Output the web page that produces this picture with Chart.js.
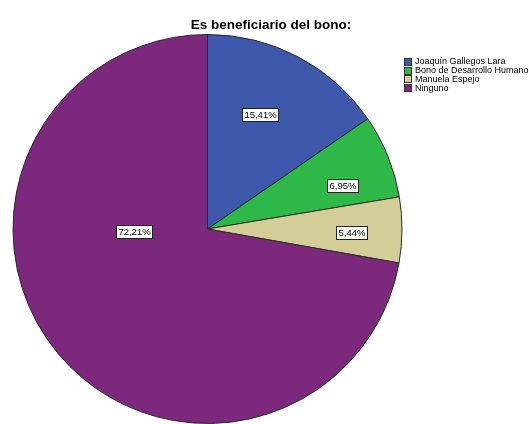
<!DOCTYPE html>
<html>
<head>
<meta charset="utf-8">
<script src="https://cdn.jsdelivr.net/npm/chart.js@4/dist/chart.umd.min.js"></script>
<style>
  html, body { margin: 0; padding: 0; background: #fff; overflow: hidden; }
  #wrap { width: 529px; height: 424px; position: relative; }
</style>
</head>
<body>
<div id="wrap"><canvas id="pie" width="529" height="424"></canvas></div>
<script>
const title      = 'Es beneficiario del bono:';
const categories = ['Joaquín Gallegos Lara', 'Bono de Desarrollo Humano', 'Manuela Espejo', 'Ninguno'];
const percents   = [15.41, 6.95, 5.44, 72.21];
const colors     = ['#3E58AC', '#2EB848', '#D3CE97', '#7C287D'];

// dónde va cada etiqueta (fracción del radio, desplazamiento en grados)
const labelRadius = [0.65, 0.73, 0.74, 0.38];
const labelShift  = [-3, 4, 1, 38];

const fmt = (v) => v.toFixed(2).replace('.', ',') + '%';

/* ---------- título, leyenda y etiquetas ---------- */
const decor = {
    id: 'decor',
    afterDatasetsDraw(chart) {
        const ctx = chart.ctx;
        ctx.save();

        // título
        ctx.fillStyle = '#000';
        ctx.font = 'bold 13.5px "Liberation Sans", Arial, sans-serif';
        ctx.textAlign = 'center';
        ctx.textBaseline = 'alphabetic';
        ctx.fillText(title, 271, 29);

        // etiquetas de porcentaje
        ctx.font = '9.5px "Liberation Sans", Arial, sans-serif';
        ctx.textBaseline = 'middle';
        chart.getDatasetMeta(0).data.forEach((arc, i) => {
            const p = arc.getProps(['x', 'y', 'startAngle', 'endAngle', 'outerRadius'], true);
            const a = (p.startAngle + p.endAngle) / 2 + labelShift[i] * Math.PI / 180;
            const r = p.outerRadius * labelRadius[i];
            const x = p.x + Math.cos(a) * r;
            const y = p.y + Math.sin(a) * r;
            const txt = fmt(percents[i]);
            const w = Math.round(ctx.measureText(txt).width) + 4;
            const h = 13;
            const bx = Math.round(x - w / 2) + 0.5, by = Math.round(y - h / 2) + 0.5;
            ctx.fillStyle = '#fff';
            ctx.fillRect(bx, by, w, h);
            ctx.strokeStyle = '#222';
            ctx.lineWidth = 1;
            ctx.strokeRect(bx, by, w, h);
            ctx.fillStyle = '#000';
            ctx.textAlign = 'center';
            ctx.fillText(txt, bx + w / 2, by + h / 2 + 0.5);
        });

        // leyenda
        ctx.font = '9px "Liberation Sans", Arial, sans-serif';
        ctx.textAlign = 'left';
        categories.forEach((c, i) => {
            const y = 62 + i * 8.7;
            ctx.fillStyle = colors[i];
            ctx.fillRect(404.5, Math.round(y - 4) + 0.5, 7, 7);
            ctx.strokeStyle = '#333';
            ctx.strokeRect(404.5, Math.round(y - 4) + 0.5, 7, 7);
            ctx.fillStyle = '#000';
            ctx.fillText(c, 415, y);
        });

        ctx.restore();
    }
};

new Chart($('#pie'), {
    type: 'pie',
    data: {
        labels: categories,
        datasets: [{
            data: percents,
            backgroundColor: colors,
            borderColor: '#2a2a2a',
            borderWidth: 1
        }]
    },
    options: {
        responsive: false,
        animation: false,
        layout: { padding: { left: 12, right: 126, top: 34, bottom: 0 } },
        plugins: {
            legend: { display: false },
            tooltip: { enabled: false }
        }
    },
    plugins: [decor]
});

function $(sel) { return document.querySelector(sel); }
</script>
</body>
</html>
